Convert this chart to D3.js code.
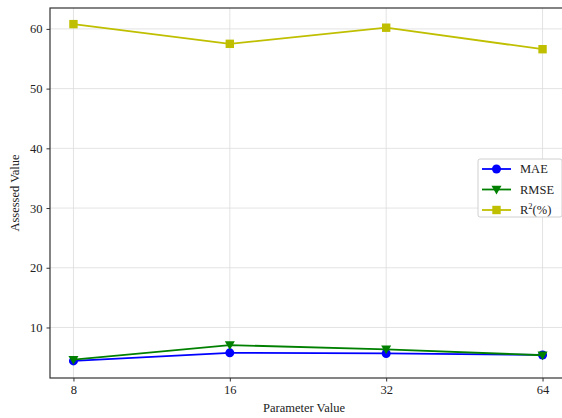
<!DOCTYPE html>
<html>
<head>
<meta charset="utf-8">
<script src="https://cdn.jsdelivr.net/npm/d3@7"></script>
<style>
  body { margin: 0; background: #fff; }
  svg, svg text { font-family: "Liberation Serif", "DejaVu Serif", serif; }
</style>
</head>
<body>
<svg id="chart" width="562" height="418"></svg>
<script>
// data
const params = ["8", "16", "32", "64"];
const mae = [4.4, 5.75, 5.65, 5.4];
const rmse = [4.6, 7.05, 6.35, 5.35];
const r2 = [60.8, 57.5, 60.2, 56.6];
const yTicks = [10, 20, 30, 40, 50, 60];

const series = [
  { name: "MAE", values: mae, color: "#0000ff", marker: "circle" },
  { name: "RMSE", values: rmse, color: "#008000", marker: "tri" },
  { name: "R2", values: r2, color: "#bfbf00", marker: "square" }
];

const svg = d3.select("#chart");
const pLeft = 50, pRight = 566, pTop = 8, pBottom = 378;

const x = d3.scaleLinear().domain([-0.15, params.length - 1 + 0.15]).range([pLeft, pRight]);
const y = d3.scaleLinear().domain([1.54, 63.5]).range([pBottom, pTop]);

// grid
svg.append("g").selectAll("line").data(yTicks).join("line")
  .attr("x1", pLeft).attr("x2", pRight)
  .attr("y1", d => y(d)).attr("y2", d => y(d))
  .attr("stroke", "#dcdcdc").attr("stroke-width", 0.8);
svg.append("g").selectAll("line").data(params).join("line")
  .attr("x1", (d, i) => x(i)).attr("x2", (d, i) => x(i))
  .attr("y1", pTop).attr("y2", pBottom)
  .attr("stroke", "#dcdcdc").attr("stroke-width", 0.8);

// axes
const xAxis = d3.axisBottom(x).tickValues(d3.range(params.length))
  .tickFormat(i => params[i]).tickSize(3.5).tickPadding(4);
const yAxis = d3.axisLeft(y).tickValues(yTicks).tickSize(3.5).tickPadding(4);

const gx = svg.append("g").attr("transform", `translate(0,${pBottom})`).call(xAxis);
const gy = svg.append("g").attr("transform", `translate(${pLeft},0)`).call(yAxis);
[gx, gy].forEach(g => {
  g.attr("font-family", null).attr("font-size", null);
  g.select(".domain").remove();
  g.selectAll("line").attr("stroke", "#333");
  g.selectAll("text").style("font-size", "12.5px").attr("fill", "#222");
});

// spines
svg.append("rect").attr("x", pLeft).attr("y", pTop)
  .attr("width", pRight - pLeft).attr("height", pBottom - pTop)
  .attr("fill", "none").attr("stroke", "#333").attr("stroke-width", 1.2);

// lines and markers
const line = d3.line().x((d, i) => x(i)).y(d => y(d));

function drawMarker(g, type, cx, cy, color) {
  if (type === "circle") {
    g.append("circle").attr("cx", cx).attr("cy", cy).attr("r", 4.5).attr("fill", color);
  } else if (type === "square") {
    g.append("rect").attr("x", cx - 4.2).attr("y", cy - 4.2)
      .attr("width", 8.4).attr("height", 8.4).attr("fill", color);
  } else {
    const s = 5;
    g.append("path")
      .attr("d", `M${cx - s},${cy - s * 0.75}L${cx + s},${cy - s * 0.75}L${cx},${cy + s}Z`)
      .attr("fill", color);
  }
}

series.forEach(s => {
  const g = svg.append("g");
  g.append("path").datum(s.values).attr("d", line)
    .attr("fill", "none").attr("stroke", s.color).attr("stroke-width", 1.8);
  s.values.forEach((v, i) => drawMarker(g, s.marker, x(i), y(v), s.color));
});

// legend
const lg = svg.append("g");
lg.append("rect").attr("x", 478).attr("y", 159).attr("width", 84).attr("height", 58)
  .attr("rx", 2).attr("fill", "rgba(255,255,255,0.85)").attr("stroke", "#d0d0d0");
series.forEach((s, i) => {
  const ly = 169 + i * 20.5;
  lg.append("line").attr("x1", 482).attr("x2", 511).attr("y1", ly).attr("y2", ly)
    .attr("stroke", s.color).attr("stroke-width", 1.8);
  drawMarker(lg, s.marker, 496.5, ly, s.color);
  const t = lg.append("text").attr("x", 520).attr("y", ly + 4)
    .style("font-size", "12.5px").attr("fill", "#222");
  if (s.name === "R2") {
    t.append("tspan").text("R");
    t.append("tspan").attr("dy", -5).style("font-size", "8.5px").text("2");
    t.append("tspan").attr("dy", 5).text("(%)");
  } else {
    t.text(s.name);
  }
});

// axis titles
svg.append("text").attr("x", (pLeft + pRight) / 2 - 4).attr("y", 412)
  .attr("text-anchor", "middle").style("font-size", "12.5px").attr("fill", "#222")
  .text("Parameter Value");
svg.append("text").attr("transform", `translate(19,${(pTop + pBottom) / 2}) rotate(-90)`)
  .attr("text-anchor", "middle").style("font-size", "12.5px").attr("fill", "#222")
  .text("Assessed Value");
</script>
</body>
</html>
